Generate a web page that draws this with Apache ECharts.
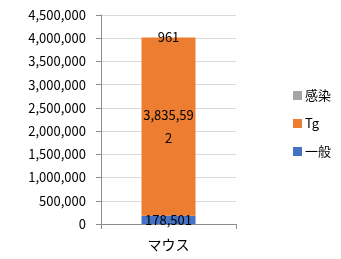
<!DOCTYPE html>
<html>
<head>
  <meta charset="utf-8">
  <script src="https://cdn.jsdelivr.net/npm/echarts@6.0.0/dist/echarts.min.js"></script>
  <style>
    body { margin: 0; padding: 0; background: #fff; }
    #chart { width: 341px; height: 259px; }
  </style>
</head>
<body>
  <div id="chart"></div>
  <script>
    const categories = ['マウス'];
    const general = [178501];
    const tg = [3835592];
    const infection = [961];
    const legendOrder = ['感染', 'Tg', '一般'];

    const font = '"Noto Sans CJK JP", "Liberation Sans", sans-serif';
    const fmt = v => v.toLocaleString('en-US');

    const label = {
      show: true,
      position: 'inside',
      color: '#000',
      fontSize: 13,
      fontFamily: font,
      width: 54,
      overflow: 'breakAll',
      lineHeight: 23,
      formatter: p => fmt(p.value)
    };

    const chart = echarts.init(document.getElementById('chart'));
    chart.setOption({
      animation: false,
      textStyle: { fontFamily: font },
      grid: { left: 101, right: 105, top: 15, bottom: 35 },
      legend: {
        orient: 'vertical',
        left: 288,
        top: 84,
        itemWidth: 9,
        itemHeight: 9,
        itemGap: 15,
        icon: 'rect',
        data: legendOrder,
        textStyle: { fontSize: 13, color: '#000', fontFamily: font, padding: [0, 0, 0, -2] }
      },
      xAxis: {
        type: 'category',
        data: categories,
        axisLine: { lineStyle: { color: '#8c8c8c' } },
        axisTick: { show: true, alignWithLabel: false, length: 5, lineStyle: { color: '#8c8c8c' } },
        axisLabel: { fontSize: 14, color: '#000', margin: 14, fontFamily: font }
      },
      yAxis: {
        type: 'value',
        min: 0,
        max: 4500000,
        interval: 500000,
        axisLine: { show: true, lineStyle: { color: '#8c8c8c' } },
        axisTick: { show: true, inside: false, length: 5, lineStyle: { color: '#8c8c8c' } },
        splitLine: { lineStyle: { color: '#d9d9d9' } },
        axisLabel: { fontSize: 13, color: '#000', margin: 15, formatter: fmt, fontFamily: font }
      },
      series: [
        { name: '一般', type: 'bar', stack: 'a', data: general, barWidth: '40%',
          itemStyle: { color: '#4472C4' }, label: label },
        { name: 'Tg', type: 'bar', stack: 'a', data: tg,
          itemStyle: { color: '#ED7D31' }, label: label },
        { name: '感染', type: 'bar', stack: 'a', data: infection,
          itemStyle: { color: '#A5A5A5' }, label: label }
      ]
    });
  </script>
</body>
</html>
